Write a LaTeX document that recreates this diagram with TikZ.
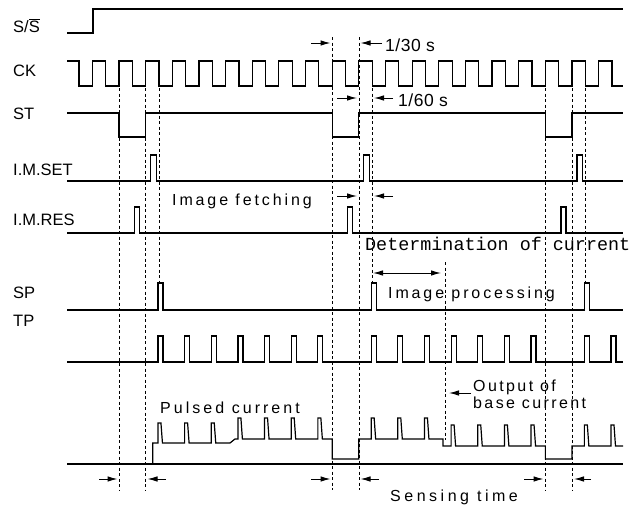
\documentclass[tikz,border=0pt]{standalone}
\usepackage{fontspec}
\setmainfont{Liberation Sans}
\newfontfamily\monofnt{Liberation Mono}
\usetikzlibrary{arrows.meta}
\tikzset{
  sig/.style={line width=1.2pt, line join=miter},
  dline/.style={line width=0.5pt, dash pattern=on 3pt off 2.5pt},
  arr/.style={line width=1pt, -{Latex[length=10pt,width=5.5pt]}},
  darr/.style={line width=1pt, {Latex[length=10pt,width=5.5pt]}-{Latex[length=10pt,width=5.5pt]}},
  lbl/.style={anchor=base west, inner sep=0pt, font=\fontsize{16.5}{16}\selectfont},
  note/.style={anchor=base west, inner sep=0pt, font=\fontsize{16}{16}\selectfont\addfontfeature{LetterSpace=18}},
  frac/.style={anchor=base west, inner sep=0pt, font=\fontsize{17.5}{16}\selectfont\addfontfeature{LetterSpace=3}},
  mono/.style={anchor=base west, inner sep=0pt, font=\fontsize{18.4}{18}\selectfont\monofnt}
}
\begin{document}
\begin{tikzpicture}[x=1pt,y=-1pt]
\useasboundingbox (0,0) rectangle (643,506);
% labels
\node[lbl] (lS) at (13,32) {S/$\overline{\hbox{S}}$};
\node[lbl] (lCK) at (13,76) {CK};
\node[lbl] (lST) at (13,119) {ST};
\node[lbl] (lSET) at (13,175) {I.M.SET};
\node[lbl] (lRES) at (13,225) {I.M.RES};
\node[lbl] (lSP) at (13,298) {SP};
\node[lbl] (lTP) at (13,326) {TP};
% dashed guides
\foreach \x in {118.98,145.63,545.38,572.03} \draw[dline] (\x,88) -- (\x,490);
\foreach \x in {332.18,358.83} \draw[dline] (\x,37) -- (\x,490);
\foreach \x in {158.95,372.15,585.35} \draw[dline] (\x,88) -- (\x,283);
\draw[dline] (445,262) -- (445,440);
% S/S
\draw[sig] (67,33) -- (93,33) -- (93,9) -- (623,9);
% CK
\draw[sig] (67,61) \foreach \k in {0,...,19}{ -- ({79+26.65*\k},61) -- ({79+26.65*\k},86) -- ({92.33+26.65*\k},86) -- ({92.33+26.65*\k},61)} -- (612,61) -- (612,86) -- (623,86);
% ST
\draw[sig] (67,113) -- (118.98,113) -- (118.98,137) -- (145.63,137) -- (145.63,113) -- (332.18,113) -- (332.18,137) -- (358.83,137) -- (358.83,113) -- (545.38,113) -- (545.38,137) -- (572.03,137) -- (572.03,113) -- (623,113);
% I.M.SET
\draw[sig] (67,181) \foreach \x in {150.63,363.83,577.03}{ -- (\x,181) -- (\x,155) -- (\x+5.5,155) -- (\x+5.5,181)} -- (623,181);
% I.M.RES
\draw[sig] (67,233) \foreach \x in {134.63,347.83,561.03}{ -- (\x,233) -- (\x,207) -- (\x+5,207) -- (\x+5,233)} -- (623,233);
% SP
\draw[sig] (67,310) \foreach \k in {3,11,19}{ -- ({78+26.65*\k},310) -- ({78+26.65*\k},283) -- ({83+26.65*\k},283) -- ({83+26.65*\k},310)} -- (623,310);
% TP
\draw[sig] (67,362) \foreach \k in {3,4,5,6,7,8,9,11,12,13,14,15,16,17,19,20}{ -- ({78+26.65*\k},362) -- ({78+26.65*\k},336) -- ({83+26.65*\k},336) -- ({83+26.65*\k},362)} -- (623,362);
% zero line of current
\draw[sig] (67,464) -- (623,464);
% current
\draw[sig] (152.7,464) -- (152.7,443)
  \foreach \k in {3,4,5}{ -- ({78+26.65*\k},443) -- ({78+26.65*\k},423) -- ({81+26.65*\k},423) -- ({82.5+26.65*\k},443)}
  -- (230,443) -- (235,439)
  \foreach \k in {6,7,8,9}{ -- ({78+26.65*\k},439) -- ({78+26.65*\k},418) -- ({81+26.65*\k},418) -- ({82.5+26.65*\k},439)}
  -- (332.18,439) -- (332.18,459) -- (358.83,459) -- (358.83,439)
  \foreach \k in {11,12,13}{ -- ({78+26.65*\k},439) -- ({78+26.65*\k},418) -- ({81+26.65*\k},418) -- ({82.5+26.65*\k},439)}
  -- (443,439) -- (443,446)
  \foreach \k in {14,15,16,17}{ -- ({78+26.65*\k},446) -- ({78+26.65*\k},425) -- ({81+26.65*\k},425) -- ({82.5+26.65*\k},446)}
  -- (545.38,446) -- (545.38,459) -- (572.03,459) -- (572.03,446)
  \foreach \k in {19,20}{ -- ({78+26.65*\k},446) -- ({78+26.65*\k},425) -- ({81+26.65*\k},425) -- ({82.5+26.65*\k},446)}
  -- (623,446);
% time annotations
\coordinate (a30l) at (311,43); \coordinate (a30lh) at (330.5,43);
\coordinate (a30r) at (382,43); \coordinate (a30rh) at (360.5,43);
\draw[arr] (a30l) -- (a30lh);
\draw[arr] (a30r) -- (a30rh);
\node[frac] (t30) at (385,51) {1/30 s};
\coordinate (a60l) at (337,98); \coordinate (a60lh) at (357,98);
\coordinate (a60r) at (393,98); \coordinate (a60rh) at (374,98);
\draw[arr] (a60l) -- (a60lh);
\draw[arr] (a60r) -- (a60rh);
\node[frac] (t60) at (398,106) {1/60 s};
% image fetching
\node[note] (tif) at (172,205) {Image fetching};
\coordinate (ifl) at (337,196); \coordinate (iflh) at (357,196);
\coordinate (ifr) at (393,196); \coordinate (ifrh) at (374,196);
\draw[arr] (ifl) -- (iflh);
\draw[arr] (ifr) -- (ifrh);
% determination
\node[mono] (tdet) at (365,250) {Determination of current};
% image processing
\coordinate (ipl) at (373,273); \coordinate (ipr) at (441,273);
\draw[darr] (ipl) -- (ipr);
\node[note] (tip) at (388,298) {Image processing};
% output of base current
\node[note, font=\fontsize{16}{16}\selectfont\addfontfeature{LetterSpace=15}] (tout1) at (473,391) {Output of};
\node[note, font=\fontsize{16}{16}\selectfont\addfontfeature{LetterSpace=15}] (tout2) at (473,408) {base current};
\coordinate (obt) at (471,393); \coordinate (obh) at (449,393);
\draw[arr] (obt) -- (obh);
% pulsed current
\node[note, font=\fontsize{16}{16}\selectfont\addfontfeature{LetterSpace=19}] (tpc) at (160,413) {Pulsed current};
% sensing time
\foreach \a/\b in {99/117.5, 166/147.5, 311/330.5, 379/360.5, 524/543.5, 591/574}
  \draw[arr] (\a,479) -- (\b,479);
\node[note, font=\fontsize{16}{16}\selectfont\addfontfeature{LetterSpace=22}] (tst) at (390,501) {Sensing time};
\end{tikzpicture}
\end{document}
